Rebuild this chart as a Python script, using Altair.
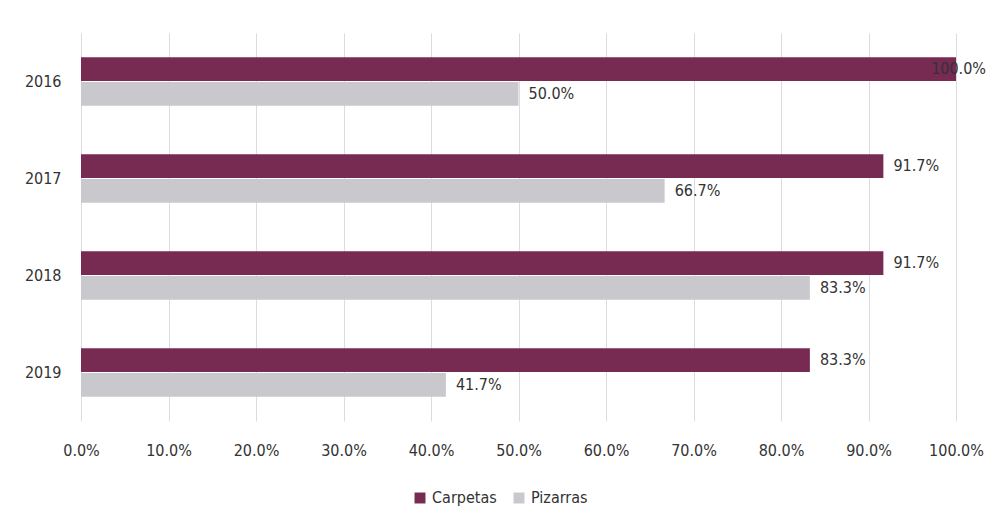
import altair as alt
import pandas as pd

years = ["2016", "2017", "2018", "2019"]
carpetas = [100.0, 91.7, 91.7, 83.3]
pizarras = [50.0, 66.7, 83.3, 41.7]
series = ["Carpetas", "Pizarras"]
colors = ["#772a52", "#c9c9cd"]

rows = []
for i, y in enumerate(years):
    rows.append({"year": y, "serie": "Carpetas", "value": carpetas[i]})
    rows.append({"year": y, "serie": "Pizarras", "value": pizarras[i]})
df = pd.DataFrame(rows)
df["label"] = df["value"].map(lambda v: f"{v:.1f}%")

FONT = "Liberation Sans Narrow, DejaVu Sans Condensed, Roboto"

y_enc = alt.Y("year:N", sort=years, title=None,
              scale=alt.Scale(paddingInner=0.5, paddingOuter=0.25),
              axis=alt.Axis(labelFontSize=16, labelColor="#333333", labelPadding=20,
                            ticks=False, domain=False, labelFont=FONT))
yoff = alt.YOffset("serie:N", sort=series, scale=alt.Scale(paddingInner=0.04))

base = alt.Chart(df).encode(y=y_enc, yOffset=yoff)

bars = base.mark_bar().encode(
    x=alt.X("value:Q", title=None,
            scale=alt.Scale(domain=[0, 100], nice=False),
            axis=alt.Axis(values=list(range(0, 101, 10)),
                          labelExpr="format(datum.value, '.1f') + '%'",
                          labelFontSize=16, labelColor="#333333", labelPadding=21,
                          labelFlush=False, labelOverlap=False,
                          labelFont=FONT, ticks=False, domain=False,
                          grid=True, gridColor="#dcdcdc", gridWidth=1)),
    color=alt.Color("serie:N", sort=series,
                    scale=alt.Scale(domain=series, range=colors),
                    legend=alt.Legend(title=None, orient="none", direction="horizontal",
                                      legendX=331, legendY=457, symbolType="square",
                                      symbolSize=120, labelFontSize=16, labelFont=FONT,
                                      labelColor="#333333", columnPadding=14,
                                      symbolStrokeWidth=0)),
)

labels = base.mark_text(align="left", baseline="middle", dx=10, fontSize=16,
                        font=FONT, color="#333333").encode(
    x="value:Q", text="label:N"
).transform_filter("datum.value < 99.95")

labels_full = base.mark_text(align="right", baseline="middle", dx=30, fontSize=16,
                             font=FONT, color="#333333").encode(
    x="value:Q", text="label:N"
).transform_filter("datum.value >= 99.95")

chart = alt.layer(bars, labels, labels_full).properties(
    width=875, height=388,
    autosize=alt.AutoSizeParams(type="none"),
    padding={"left": 73, "top": 25, "right": 36, "bottom": 98},
).configure(background="white", view=alt.ViewConfig(stroke=None))

chart.save("out.html", embed_options={"renderer": "svg", "actions": False})
